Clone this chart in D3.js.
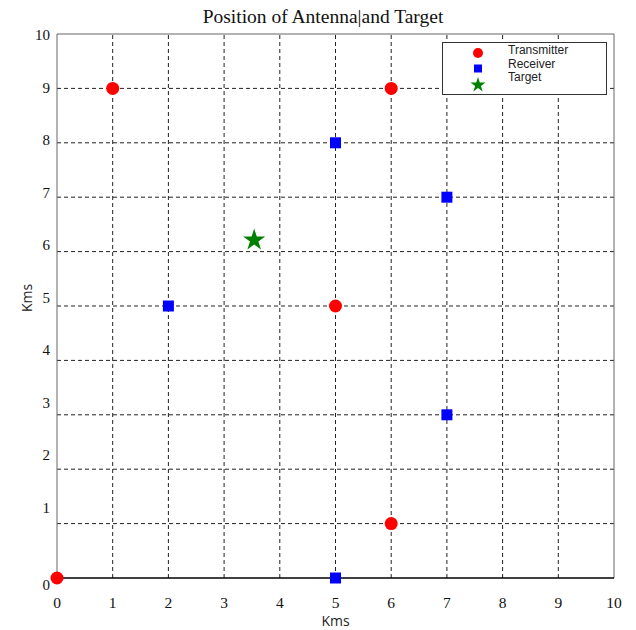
<!DOCTYPE html>
<html><head><meta charset="utf-8">
<script src="https://cdn.jsdelivr.net/npm/d3@7"></script>
<style>body{margin:0;background:#fff}svg{display:block}</style>
</head><body>
<script>
const transmitterX = [0, 1, 6, 5, 6];
const transmitterY = [0, 9, 9, 5, 1];
const receiverX = [5, 7, 2, 7, 5];
const receiverY = [8, 7, 5, 3, 0];
const targetX = [3.54];
const targetY = [6.23];
const xTicks = [0,1,2,3,4,5,6,7,8,9,10];
const yTicks = [0,1,2,3,4,5,6,7,8,9,10];
const legendLabels = ["Transmitter", "Receiver", "Target"];
const titleText = "Position of Antenna|and Target";
const xTitle = "Kms", yTitle = "Kms";

const W = 636, H = 630;
const svg = d3.select("body").append("svg").attr("width", W).attr("height", H);
const x = d3.scaleLinear().domain([0, 10]).range([57, 614]);
const y = d3.scaleLinear().domain([0, 10]).range([578, 34]);
const yLab = d3.scaleLinear().domain([1, 10]).range([508, 35]);
const serif = "'Liberation Serif','DejaVu Serif',serif";
const sans = "'Open Sans','DejaVu Sans',sans-serif";
const legendFont = "'Liberation Sans','DejaVu Sans',sans-serif";

// grid
const g = svg.append("g");
g.selectAll(".vg").data(xTicks.slice(1, -1)).join("line")
  .attr("x1", d => x(d)).attr("x2", d => x(d)).attr("y1", y(0)).attr("y2", y(10))
  .attr("stroke", "#222").attr("stroke-width", 1).attr("stroke-dasharray", "4,3");
g.selectAll(".hg").data(yTicks.slice(1, -1)).join("line")
  .attr("x1", x(0)).attr("x2", x(10)).attr("y1", d => y(d)).attr("y2", d => y(d))
  .attr("stroke", "#222").attr("stroke-width", 1).attr("stroke-dasharray", "4,3");

// frame
svg.append("line").attr("x1", x(0)).attr("x2", x(10)).attr("y1", y(10)).attr("y2", y(10)).attr("stroke", "#666");
svg.append("line").attr("x1", x(10)).attr("x2", x(10)).attr("y1", y(10)).attr("y2", y(0)).attr("stroke", "#666");
svg.append("line").attr("x1", x(0)).attr("x2", x(0)).attr("y1", y(10)).attr("y2", y(0)).attr("stroke", "#666");
svg.append("line").attr("x1", x(0)).attr("x2", x(10)).attr("y1", y(0)).attr("y2", y(0)).attr("stroke", "#000").attr("stroke-width", 1.5);

// x tick labels
svg.selectAll(".xl").data(xTicks).join("text")
  .attr("x", d => x(d)).attr("y", 608).attr("text-anchor", "middle")
  .attr("font-family", serif).attr("font-size", 15.5).attr("fill", "#111").text(d => d);
// y tick labels
svg.selectAll(".yl").data(yTicks).join("text")
  .attr("x", 50).attr("y", d => d === 0 ? 590 : yLab(d) + 5).attr("text-anchor", "end")
  .attr("font-family", serif).attr("font-size", 15).attr("fill", "#111").text(d => d);

// titles
svg.append("text").attr("x", 323).attr("y", 23).attr("text-anchor", "middle")
  .attr("font-family", serif).attr("font-size", 19.5).attr("fill", "#111").text(titleText);
svg.append("text").attr("x", x(5)).attr("y", 626).attr("text-anchor", "middle")
  .attr("font-family", sans).attr("font-size", 14).attr("fill", "#222").text(xTitle);
svg.append("text").attr("transform", `translate(32,${y(5) - 8}) rotate(-90)`).attr("text-anchor", "middle")
  .attr("font-family", sans).attr("font-size", 14).attr("fill", "#222").text(yTitle);

// markers
const tx = transmitterX.map((v, i) => [v, transmitterY[i]]);
const rx = receiverX.map((v, i) => [v, receiverY[i]]);
const tg = targetX.map((v, i) => [v, targetY[i]]);
svg.selectAll(".tx").data(tx).join("circle")
  .attr("cx", d => x(d[0])).attr("cy", d => y(d[1])).attr("r", 6.5).attr("fill", "#ff0000");
svg.selectAll(".rx").data(rx).join("rect")
  .attr("x", d => x(d[0]) - 5.5).attr("y", d => y(d[1]) - 5.5).attr("width", 11).attr("height", 11).attr("fill", "#0000ff");
const star = d3.symbol().type(d3.symbolStar).size(150);
svg.selectAll(".tg").data(tg).join("path")
  .attr("transform", d => `translate(${x(d[0])},${y(d[1]) + 1})`).attr("d", star()).attr("fill", "#008000");

// legend
const lg = svg.append("g");
lg.append("rect").attr("x", 442.5).attr("y", 42.5).attr("width", 164).attr("height", 52)
  .attr("fill", "#fff").attr("stroke", "#333").attr("stroke-width", 1);
const ly = d3.scalePoint().domain(legendLabels).range([53, 84]);
lg.append("circle").attr("cx", 478).attr("cy", ly(legendLabels[0])).attr("r", 5).attr("fill", "#ff0000");
lg.append("rect").attr("x", 474).attr("y", ly(legendLabels[1]) - 4).attr("width", 8).attr("height", 8).attr("fill", "#0000ff");
lg.append("path").attr("transform", `translate(478,${ly(legendLabels[2]) + 1})`)
  .attr("d", d3.symbol().type(d3.symbolStar).size(70)()).attr("fill", "#008000");
const lt = d3.scalePoint().domain(legendLabels).range([54, 81]);
lg.selectAll(".lt").data(legendLabels).join("text")
  .attr("x", 508).attr("y", d => lt(d))
  .attr("font-family", legendFont).attr("font-size", 12).attr("fill", "#222").text(d => d);
</script>
</body></html>
